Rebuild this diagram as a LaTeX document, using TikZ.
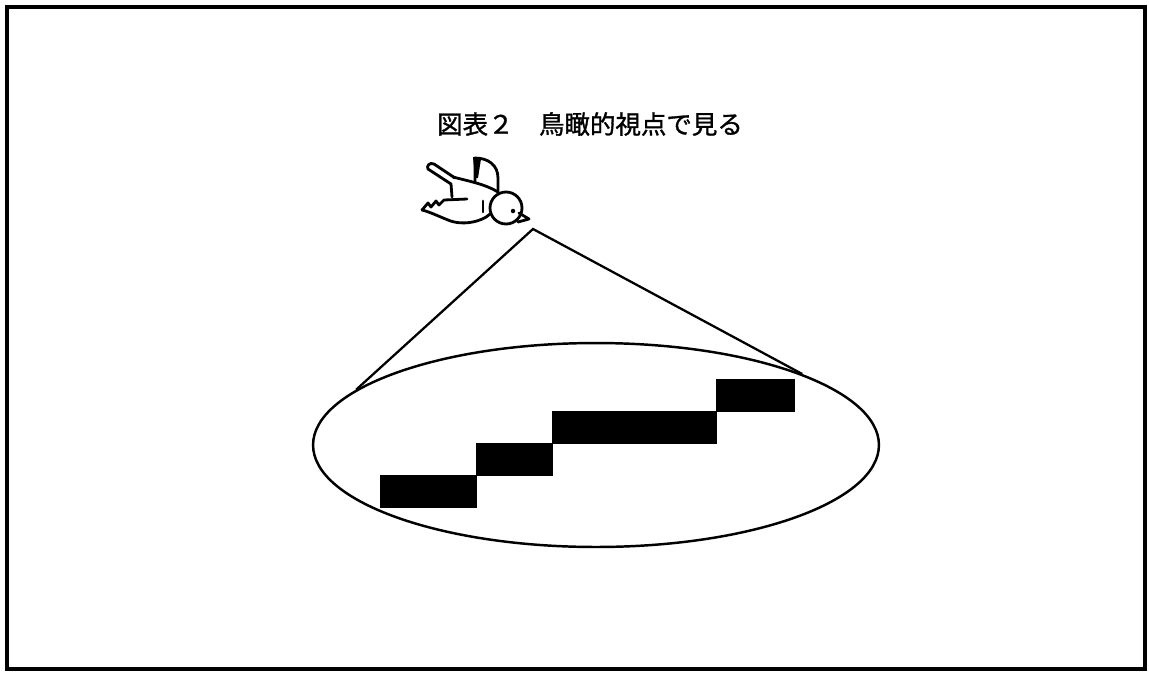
\documentclass[tikz,border=0pt]{standalone}
\usepackage{fontspec}
\newfontfamily\jpfont[FakeBold=1.2]{Noto Sans CJK JP}
\usetikzlibrary{positioning,shapes.geometric}

\begin{document}
\begin{tikzpicture}[x=0.02cm,y=-0.02cm,
  panel/.style={line width=2pt},
  field/.style={ellipse,draw,line width=1.4pt,minimum width=11.32cm,minimum height=4.08cm,inner sep=0pt},
  stair/.style={draw=black,fill=black,minimum height=0.64cm,inner sep=0pt,outer sep=0pt},
  sight/.style={line width=1.3pt},
  birdline/.style={line width=1.6pt,line cap=round,line join=round}]
\useasboundingbox (0,0) rectangle (1149,673);
\fill[white] (0,0) rectangle (1149,673);
\draw[panel] (7,7) rectangle (1145,669);
\node[font=\jpfont\fontsize{14.5pt}{16pt}\selectfont] (title) at (590,124) {図表２　鳥瞰的視点で見る};

% bird
\begin{scope}[birdline]
\draw (475,182) -- (475,158) .. controls (488,158) and (498,165) .. (498,178) -- (498,192);
\fill (473,157) -- (481,159) -- (478,178) -- (475,178) -- cycle;
\draw (453,177) .. controls (468,181) and (485,184) .. (498,192);
\draw (455,178) -- (434,164) .. controls (430,162) and (426,166) .. (428,169) -- (451,184) -- (452,197);
\draw (490,214) .. controls (482,222) and (462,226) .. (448,220) .. controls (438,216) and (430,212) .. (422,210);
\draw (422,210) -- (428,203) -- (431,207) -- (436,201) -- (439,205) -- (444,200) -- (467,199);
\draw (506,208) circle[radius=0.32cm];
\draw (519,213) -- (529,219) -- (518,222);
\fill (513,211) circle[radius=0.045cm];
\draw (483,201) -- (483,212);
\end{scope}
\coordinate (apex) at (533,229);

% field of view
\node[field] (field) at (596,445) {};
\draw[sight] (field.167) -- (apex) -- (field.19);

% stairs
\node[stair,minimum width=1.92cm] (s1) at (428,491) {};
\node[stair,minimum width=1.52cm,above right=0pt of s1] (s2) {};
\node[stair,minimum width=3.28cm,above right=0pt of s2] (s3) {};
\node[stair,minimum width=1.56cm,above right=0pt of s3] (s4) {};
\end{tikzpicture}
\end{document}
